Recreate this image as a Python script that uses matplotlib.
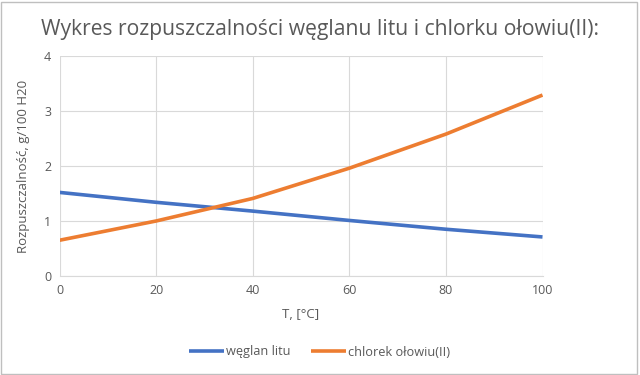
import matplotlib
matplotlib.use("Agg")
import matplotlib.pyplot as plt
from matplotlib.patches import Rectangle

plt.rcParams['font.family'] = ['Open Sans', 'DejaVu Sans']

T = [0, 20, 40, 60, 80, 100]
li2co3 = [1.52, 1.34, 1.18, 1.01, 0.85, 0.71]
pbcl2 = [0.65, 1.00, 1.41, 1.96, 2.58, 3.29]
labels = ['węglan litu', 'chlorek ołowiu(II)']
xticks = [0, 20, 40, 60, 80, 100]
yticks = [0, 1, 2, 3, 4]

fig = plt.figure(figsize=(6.4, 3.75), dpi=100)
ax = fig.add_axes([59.5/640, 1 - 276/375, (542.5-59.5)/640, (276-56)/375])

ax.plot(T, li2co3, color='#4472C4', lw=2.6, label=labels[0], solid_capstyle='butt')
ax.plot(T, pbcl2, color='#ED7D31', lw=2.6, label=labels[1], solid_capstyle='butt')

ax.set_xlim(0, 100)
ax.set_ylim(0, 4)
ax.set_xticks(xticks)
ax.set_yticks(yticks)
ax.grid(True, color='#D9D9D9', lw=0.8)
ax.set_axisbelow(True)
for s in ['top', 'right', 'left']:
    ax.spines[s].set_visible(False)
ax.spines['bottom'].set_color('#D9D9D9')
ax.tick_params(length=0, colors='#595959', labelsize=9, pad=6)

ax.set_xlabel('T, [°C]', color='#595959', fontsize=9.5, labelpad=8)
ax.set_ylabel('Rozpuszczalność, g/100 H20', color='#595959', fontsize=9.5, labelpad=10)

fig.text(0.5, 1 - 30/375, 'Wykres rozpuszczalności węglanu litu i chlorku ołowiu(II):',
         ha='center', va='center', fontsize=15.2, color='#595959')

leg = fig.legend(loc='center', bbox_to_anchor=(0.5, 1 - 352/375), ncol=2, frameon=False,
                 fontsize=9.2, handlelength=2.7, handletextpad=0.2, columnspacing=1.6)
for t in leg.get_texts():
    t.set_color('#595959')

fig.patches.append(Rectangle((0.002, 0.003), 0.994, 0.992, transform=fig.transFigure,
                             fill=False, edgecolor='#BFBFBF', lw=1))

fig.savefig('out.png', dpi=100)
